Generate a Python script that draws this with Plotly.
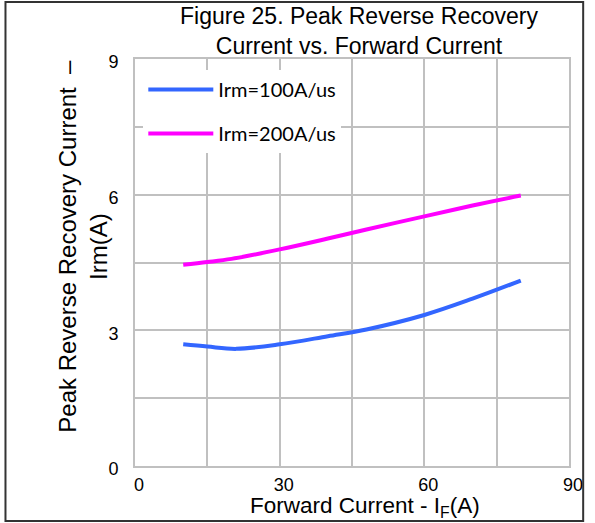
import plotly.graph_objects as go

# Data
x_100 = [10, 15, 21, 30, 40, 48, 60, 70, 80]
y_100 = [2.69, 2.64, 2.59, 2.69, 2.87, 3.02, 3.34, 3.70, 4.10]
x_200 = [10, 15, 20, 30, 40, 48, 60, 70, 80]
y_200 = [4.45, 4.51, 4.58, 4.79, 5.03, 5.23, 5.52, 5.76, 5.98]
name_100 = "Irm=100A/us"
name_200 = "Irm=200A/us"
x_ticks = [0, 30, 60, 90]
y_ticks = [0, 3, 6, 9]

W, H = 595, 523
L, R, T, B = 134.5, 16.5, 59, 57
pw, ph = W - L - R, H - T - B

def px(x):
    return (x - L) / pw

def py(y):
    return (H - B - y) / ph

fig = go.Figure()
fig.add_trace(go.Scatter(x=x_100, y=y_100, mode="lines", name=name_100,
                         line=dict(color="#3366ff", width=4, shape="spline", smoothing=1.0),
                         legendgroup="a"))
fig.add_trace(go.Scatter(x=x_200, y=y_200, mode="lines", name=name_200,
                         line=dict(color="#ff00ff", width=4, shape="spline", smoothing=1.0),
                         legendgroup="b"))

grid = "#c0c0c0"
tick_font = dict(family="Liberation Sans, Arial", size=18, color="#000")
fig.update_xaxes(range=[0, 90], tickvals=x_ticks,
                 showgrid=True, gridcolor=grid, gridwidth=2,
                 showline=True, linecolor=grid, linewidth=2, mirror=True,
                 zeroline=False, ticks="", ticklabelstandoff=1, ticklabelshift=4,
                 tickfont=tick_font,
                 minor=dict(showgrid=True, gridcolor=grid, gridwidth=2, tickvals=[15, 45, 75]))
fig.update_yaxes(range=[0, 9], tickvals=y_ticks,
                 showgrid=True, gridcolor=grid, gridwidth=2,
                 showline=True, linecolor=grid, linewidth=2, mirror=True,
                 zeroline=False, ticks="", ticklabelstandoff=11, ticklabelshift=3,
                 tickfont=tick_font,
                 minor=dict(showgrid=True, gridcolor=grid, gridwidth=2, tickvals=[1.5, 4.5, 7.5]))

fig.update_layout(
    width=W, height=H,
    margin=dict(l=L, r=R, t=T, b=B),
    paper_bgcolor="white", plot_bgcolor="white",
    showlegend=True,
    legend=dict(x=px(143), y=py(70), xanchor="left", yanchor="top",
                bgcolor="white", borderwidth=0,
                font=dict(family="Lato", size=20, color="#000"),
                traceorder="grouped", tracegroupgap=15,
                itemwidth=65),
    annotations=[
        dict(text="Figure 25. Peak Reverse Recovery<br>Current vs. Forward Current",
             x=px(364), y=py(31), xref="paper", yref="paper", showarrow=False,
             xanchor="center", yanchor="middle",
             font=dict(family="Liberation Sans, Arial", size=23, color="#000")),
        dict(text="Forward Current - I<sub>F</sub>(A)",
             x=px(370), y=py(507), xref="paper", yref="paper", showarrow=False,
             xanchor="center", yanchor="middle",
             font=dict(family="Liberation Sans, Arial", size=22.5, color="#000")),
        dict(text="Peak Reverse Recovery Current  \u2013<br>Irm(A)",
             x=px(81), y=py(246), xref="paper", yref="paper", showarrow=False,
             xanchor="center", yanchor="middle", textangle=-90,
             font=dict(family="Liberation Sans, Arial", size=24, color="#000")),
    ],
    shapes=[
        dict(type="rect", xref="paper", yref="paper",
             x0=px(2), x1=px(593), y0=py(521), y1=py(2),
             line=dict(color="#333333", width=2), fillcolor="rgba(0,0,0,0)",
             layer="above"),
    ],
)

fig.write_html("out.html")
